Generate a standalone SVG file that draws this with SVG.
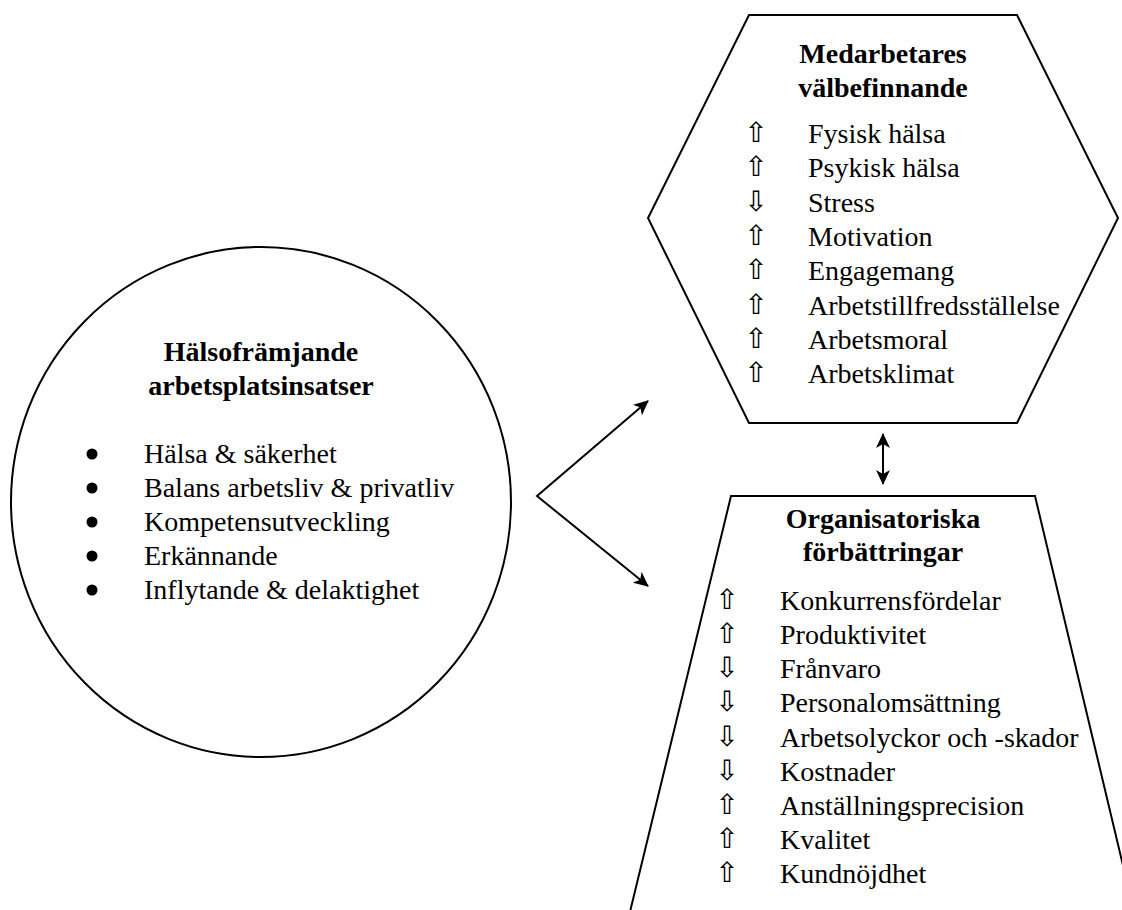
<svg xmlns="http://www.w3.org/2000/svg" width="1122" height="910" viewBox="0 0 1122 910">
  <style>
    .shape { fill: #ffffff; stroke: #000000; stroke-width: 2; }
    .title { font-family: "Liberation Serif", "Times New Roman", serif; font-size: 28px; font-weight: bold; text-anchor: middle; fill: #000; }
    .item { font-family: "Liberation Serif", "Times New Roman", serif; font-size: 28px; fill: #000; }
    .sym { font-family: "DejaVu Sans", sans-serif; font-size: 28px; fill: #000; text-anchor: middle; }
    .bullet { fill: #000; }
    .conn { fill: none; stroke: #000; stroke-width: 2; }
  </style>
  <defs>
    <marker id="head" markerUnits="userSpaceOnUse" markerWidth="16" markerHeight="14" refX="14" refY="7" orient="auto-start-reverse" viewBox="0 0 16 14">
      <path d="M0,0 L15,7 L0,14 L4,7 Z" fill="#000"/>
    </marker>
  </defs>
  <rect width="1122" height="910" fill="#ffffff"/>

  <!-- left node: workplace interventions -->
  <g id="interventions">
    <ellipse class="shape" cx="261" cy="502" rx="250" ry="255"/>
    <text class="title" x="261" y="361">Hälsofrämjande</text>
    <text class="title" x="261" y="395">arbetsplatsinsatser</text>
    <circle class="bullet" cx="92" cy="454" r="5.5"/>
    <circle class="bullet" cx="92" cy="488" r="5.5"/>
    <circle class="bullet" cx="92" cy="522" r="5.5"/>
    <circle class="bullet" cx="92" cy="556" r="5.5"/>
    <circle class="bullet" cx="92" cy="590" r="5.5"/>
    <text class="item" x="144" y="463">Hälsa &amp; säkerhet</text>
    <text class="item" x="144" y="497">Balans arbetsliv &amp; privatliv</text>
    <text class="item" x="144" y="531">Kompetensutveckling</text>
    <text class="item" x="144" y="565">Erkännande</text>
    <text class="item" x="144" y="599">Inflytande &amp; delaktighet</text>
  </g>

  <!-- top right node: employee wellbeing -->
  <g id="wellbeing">
    <polygon class="shape" points="749,15 1017,15 1118,218 1017,423 749,423 648,218"/>
    <text class="title" x="883" y="63">Medarbetares</text>
    <text class="title" x="883" y="97">välbefinnande</text>
    <text class="sym" x="756" y="142">⇧</text>
    <text class="sym" x="756" y="176">⇧</text>
    <text class="sym" x="756" y="211">⇩</text>
    <text class="sym" x="756" y="245">⇧</text>
    <text class="sym" x="756" y="279">⇧</text>
    <text class="sym" x="756" y="314">⇧</text>
    <text class="sym" x="756" y="348">⇧</text>
    <text class="sym" x="756" y="382">⇧</text>
    <text class="item" x="808" y="143">Fysisk hälsa</text>
    <text class="item" x="808" y="177">Psykisk hälsa</text>
    <text class="item" x="808" y="212">Stress</text>
    <text class="item" x="808" y="246">Motivation</text>
    <text class="item" x="808" y="280">Engagemang</text>
    <text class="item" x="808" y="315">Arbetstillfredsställelse</text>
    <text class="item" x="808" y="349">Arbetsmoral</text>
    <text class="item" x="808" y="383">Arbetsklimat</text>
  </g>

  <!-- bottom right node: organisational improvements -->
  <g id="improvements">
    <polygon class="shape" points="731,496 1035,496 1136,920 628,920"/>
    <text class="title" x="883" y="528">Organisatoriska</text>
    <text class="title" x="883" y="561">förbättringar</text>
    <text class="sym" x="727" y="609">⇧</text>
    <text class="sym" x="727" y="643">⇧</text>
    <text class="sym" x="727" y="677">⇩</text>
    <text class="sym" x="727" y="711">⇩</text>
    <text class="sym" x="727" y="746">⇩</text>
    <text class="sym" x="727" y="780">⇩</text>
    <text class="sym" x="727" y="814">⇧</text>
    <text class="sym" x="727" y="848">⇧</text>
    <text class="sym" x="727" y="882">⇧</text>
    <text class="item" x="780" y="610">Konkurrensfördelar</text>
    <text class="item" x="780" y="644">Produktivitet</text>
    <text class="item" x="780" y="678">Frånvaro</text>
    <text class="item" x="780" y="712">Personalomsättning</text>
    <text class="item" x="780" y="747">Arbetsolyckor och -skador</text>
    <text class="item" x="780" y="781">Kostnader</text>
    <text class="item" x="780" y="815">Anställningsprecision</text>
    <text class="item" x="780" y="849">Kvalitet</text>
    <text class="item" x="780" y="883">Kundnöjdhet</text>
  </g>

  <!-- connectors -->
  <g id="connectors">
    <polyline class="conn" points="648,401 537,496 648,586" marker-start="url(#head)" marker-end="url(#head)"/>
    <line class="conn" x1="883" y1="434" x2="883" y2="484" marker-start="url(#head)" marker-end="url(#head)"/>
  </g>
</svg>
